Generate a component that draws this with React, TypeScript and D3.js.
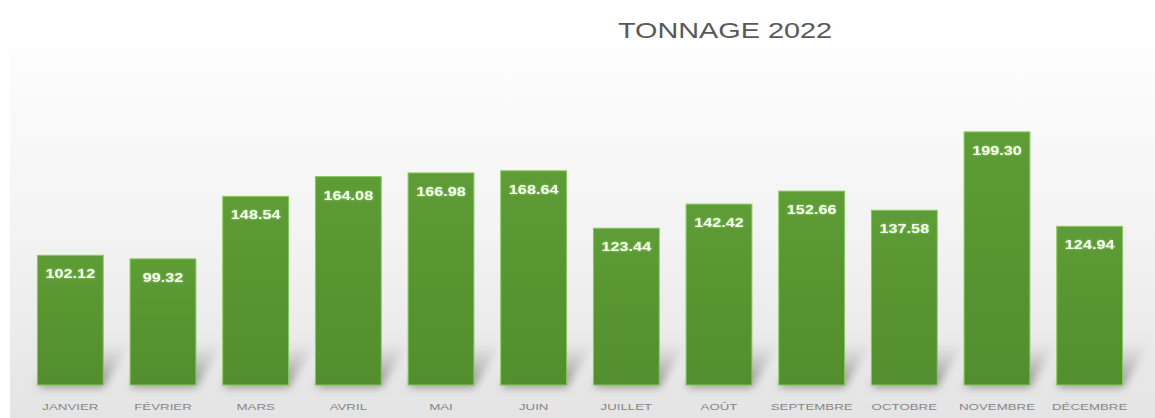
import React from "react";
import * as d3 from "d3";

const months = ["JANVIER", "FÉVRIER", "MARS", "AVRIL", "MAI", "JUIN", "JUILLET", "AOÛT", "SEPTEMBRE", "OCTOBRE", "NOVEMBRE", "DÉCEMBRE"];
const values = [102.12, 99.32, 148.54, 164.08, 166.98, 168.64, 123.44, 142.42, 152.66, 137.58, 199.3, 124.94];
const title = "TONNAGE 2022";

const W = 1155;
const H = 418;

export default function App() {
  const x = d3.scaleBand<string>().domain(months).range([24, 1136]).paddingInner(0.29).paddingOuter(0.145);
  const y = d3.scaleLinear().domain([0, 200]).range([385, 131]);
  const bw = x.bandwidth();
  const font = "'Liberation Sans', Arial, sans-serif";

  return (
    <svg width={W} height={H} style={{ position: "absolute", left: 0, top: 0, display: "block" }}>
      <defs>
        <linearGradient id="bg" x1="0" y1="0" x2="0" y2="1">
          <stop offset="0" stopColor="#fdfdfd" />
          <stop offset="0.5" stopColor="#f3f3f3" />
          <stop offset="1" stopColor="#e4e4e4" />
        </linearGradient>
        <linearGradient id="bar" x1="0" y1="0" x2="0" y2="1">
          <stop offset="0" stopColor="#5e9c36" />
          <stop offset="1" stopColor="#528e2d" />
        </linearGradient>
        <linearGradient id="sh" x1="0" y1="1" x2="0" y2="0">
          <stop offset="0" stopColor="#7a7a7a" stopOpacity="0.9" />
          <stop offset="1" stopColor="#b5b5b5" stopOpacity="0" />
        </linearGradient>
        <filter id="blur" x="-50%" y="-50%" width="200%" height="200%">
          <feGaussianBlur stdDeviation="4" />
        </filter>
        <filter id="glow" x="-20%" y="-50%" width="140%" height="200%">
          <feGaussianBlur in="SourceAlpha" stdDeviation="0.8" result="b" />
          <feFlood floodColor="#b9ee8f" floodOpacity="0.7" />
          <feComposite in2="b" operator="in" result="g" />
          <feMerge>
            <feMergeNode in="g" />
            <feMergeNode in="SourceGraphic" />
          </feMerge>
        </filter>
      </defs>
      <rect x={0} y={0} width={W} height={H} fill="#ffffff" />
      <rect x={10} y={48} width={W - 10} height={H - 48} fill="url(#bg)" />
      <g transform={`translate(725,38) scale(1.31,1)`}>
        <text textAnchor="middle" fontFamily={font} fontSize={22} fill="#595959">{title}</text>
      </g>
      <g filter="url(#blur)">
        {months.map((m) => {
          const x0 = x(m)!;
          const x1 = x0 + bw;
          const yb = y(0) + 2;
          const d = `M${x0},${yb} L${x1},${yb} L${x1 + 28},${yb - 46} L${x0 + 28},${yb - 46} Z`;
          return <path key={m} d={d} fill="url(#sh)" />;
        })}
      </g>
      {months.map((m, i) => (
        <rect key={m} x={x(m)!} y={y(values[i])} width={bw} height={y(0) - y(values[i])} fill="url(#bar)" stroke="#86c95a" strokeWidth={1} />
      ))}
      {months.map((m, i) => (
        <g key={m} transform={`translate(${x(m)! + bw / 2},${y(values[i]) + 23}) scale(1.3,1)`} filter="url(#glow)">
          <text textAnchor="middle" fontFamily={font} fontWeight="bold" fontSize={12.5} fill="#f4fff0">{values[i].toFixed(2)}</text>
        </g>
      ))}
      {months.map((m) => (
        <g key={m} transform={`translate(${x(m)! + bw / 2},410) scale(1.4,1)`}>
          <text textAnchor="middle" fontFamily={font} fontSize={9.5} fill="#858585">{m}</text>
        </g>
      ))}
    </svg>
  );
}
